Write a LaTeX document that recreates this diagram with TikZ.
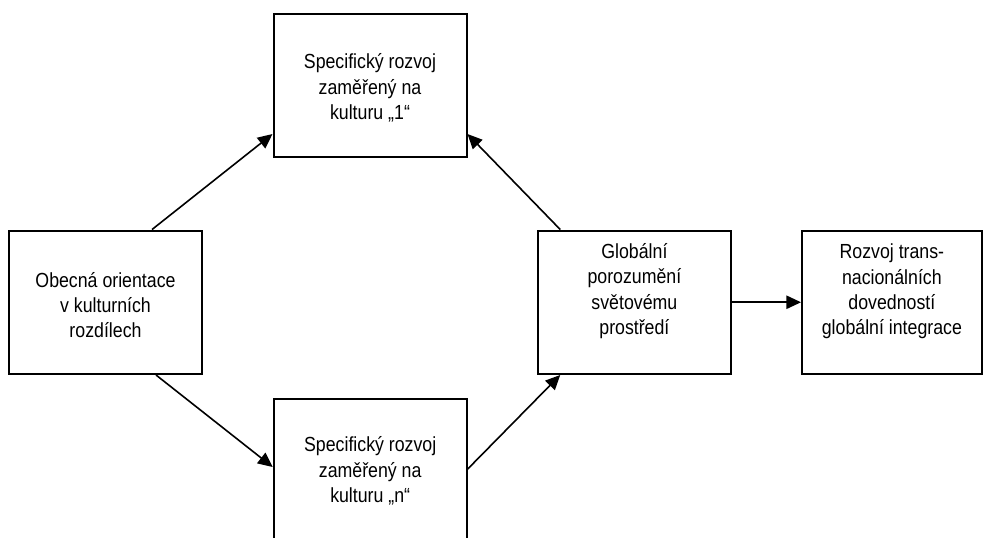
\documentclass[tikz,border=0pt]{standalone}
\usepackage{fontspec}
\setmainfont{Liberation Sans}[FakeStretch=0.87]
\usetikzlibrary{arrows.meta}
\tikzset{
  box/.style={draw=black, line width=1.5pt, fill=white, inner sep=0pt, minimum height=107.6pt, minimum width=144.75pt},
  txt/.style={align=center, inner sep=0pt, font=\fontsize{15.3pt}{19pt}\selectfont},
  arr/.style={line width=1.2pt, -{Triangle[length=11pt,width=10pt]}}
}
\begin{document}
\begin{tikzpicture}[x=0.75pt,y=-0.75pt]
\useasboundingbox (0,0) rectangle (983,537);
\clip (0,0) rectangle (983,537);
% boxes
\node[box] (t1) at (370,85.75) {};
\node[box] (L) at (105.5,302.25) {};
\node[box] (b1) at (370.2,470.75) {};
\node[box] (G) at (634.4,302.25) {};
\node[box, minimum width=134.8pt] (R) at (891.9,302.25) {};
% texts
\node[txt] (t1t) at (370,88) {Specifický rozvoj\\zaměřený na\\kulturu „1“};
\node[txt] (Lt) at (105.5,305) {Obecná orientace\\v kulturních\\rozdílech};
\node[txt] (b1t) at (370.2,471) {Specifický rozvoj\\zaměřený na\\kulturu „n“};
\node[txt] (Gt) at (634.4,291) {Globální\\porozumění\\světovému\\prostředí};
\node[txt] (Rt) at (891.9,291.5) {Rozvoj trans-\\nacionálních\\dovedností\\globální integrace};
% arrows
\draw[arr] ([xshift=108pt]L.north west) -- ([yshift=-90.75pt]t1.north west);
\draw[arr] ([xshift=17.5pt]G.north west) -- ([yshift=-90.75pt]t1.north east);
\draw[arr] ([xshift=111pt]L.south west) -- ([yshift=-51.75pt]b1.north west);
\draw[arr] ([yshift=-53.25pt]b1.north east) -- ([xshift=17.5pt]G.south west);
\draw[arr] (G.east) -- (R.west);
\end{tikzpicture}
\end{document}
